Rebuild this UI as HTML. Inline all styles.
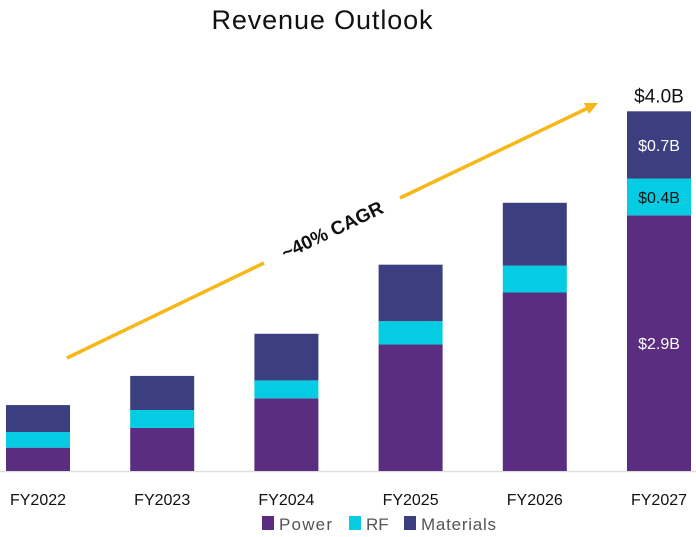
<!DOCTYPE html>
<html><head><meta charset="utf-8"><style>
html,body{margin:0;padding:0;background:#fff;}
svg{display:block;font-family:"Liberation Sans",sans-serif;}
</style></head><body>
<svg id="chart" width="696" height="537">
<text x="322" y="29" font-size="27" text-anchor="middle" fill="#111" textLength="221">Revenue Outlook</text>
<line x1="0" y1="471.5" x2="696" y2="471.5" stroke="#ddd" stroke-width="1.5"/>
<g id="bars"></g>
<g>
<line x1="67" y1="358" x2="264" y2="263" stroke="#F7B718" stroke-width="3.5"/>
<line x1="400" y1="198" x2="588" y2="108" stroke="#F7B718" stroke-width="3.5"/>
<polygon points="598,103 584,103 589,114" fill="#F7B718"/>
</g>
<text x="335" y="236" font-size="19" font-weight="bold" text-anchor="middle" transform="rotate(-25.5 335 236)" fill="#111">~40% CAGR</text>
<g>
<rect x="262" y="516" width="12" height="14" fill="#5A2D81"/>
<text x="279" y="530" font-size="17" fill="#555" textLength="53">Power</text>
<rect x="349" y="516" width="12" height="14" fill="#05CCE2"/>
<text x="366" y="530" font-size="17" fill="#555">RF</text>
<rect x="404" y="516" width="12" height="14" fill="#3B3F80"/>
<text x="421" y="530" font-size="17" fill="#555" textLength="75">Materials</text>
</g>
</svg>
<script>
const categories = ["FY2022","FY2023","FY2024","FY2025","FY2026","FY2027"];
const power = [0.26,0.48,0.81,1.41,1.99,2.85];
const rf = [0.175,0.20,0.20,0.26,0.30,0.41];
const materials = [0.30,0.38,0.52,0.63,0.70,0.75];
const segLabels = {5:["$2.9B","$0.4B","$0.7B"]};
const totalLabels = {5:"$4.0B"};

const baseY = 471, pxPer = 89.7, x0 = 6, step = 124.2, bw = 64;
const yS = v => baseY - v * pxPer;
const xS = i => x0 + i * step;
const g = document.getElementById('bars');
const NS = "http://www.w3.org/2000/svg";
const series = [[power,"#5A2D81","power"],[rf,"#05CCE2","rf"],[materials,"#3B3F80","materials"]];
categories.forEach((c,i)=>{
  let acc = 0;
  series.forEach(([arr,col,nm],k)=>{
    const y1 = yS(acc), y2 = yS(acc+arr[i]);
    const r = document.createElementNS(NS,'rect');
    r.setAttribute('x', xS(i)); r.setAttribute('width', bw);
    r.setAttribute('y', y2); r.setAttribute('height', y1-y2);
    r.setAttribute('fill', col);
    
    
    g.appendChild(r);
    if (segLabels[i]) {
      const t = document.createElementNS(NS,'text');
      t.setAttribute('x', xS(i)+bw/2); t.setAttribute('y', (y1+y2)/2+6);
      t.setAttribute('text-anchor','middle'); t.setAttribute('font-size','16');
      t.setAttribute('fill', k===1 ? '#111' : '#fff');
      t.textContent = segLabels[i][k];
      
      
      g.appendChild(t);
    }
    acc += arr[i];
  });
  if (totalLabels[i]) {
    const t = document.createElementNS(NS,'text');
    t.setAttribute('x', xS(i)+bw/2); t.setAttribute('y', yS(acc)-9);
    t.setAttribute('text-anchor','middle'); t.setAttribute('font-size','19');
    t.setAttribute('fill','#111');
    t.textContent = totalLabels[i];
    
    
    g.appendChild(t);
  }
  const l = document.createElementNS(NS,'text');
  l.setAttribute('x', xS(i)+bw/2); l.setAttribute('y', 505);
  l.setAttribute('text-anchor','middle'); l.setAttribute('font-size','16');
  l.setAttribute('fill','#111');
  l.textContent = c;
  
  
  g.appendChild(l);
});
</script>
</body></html>
